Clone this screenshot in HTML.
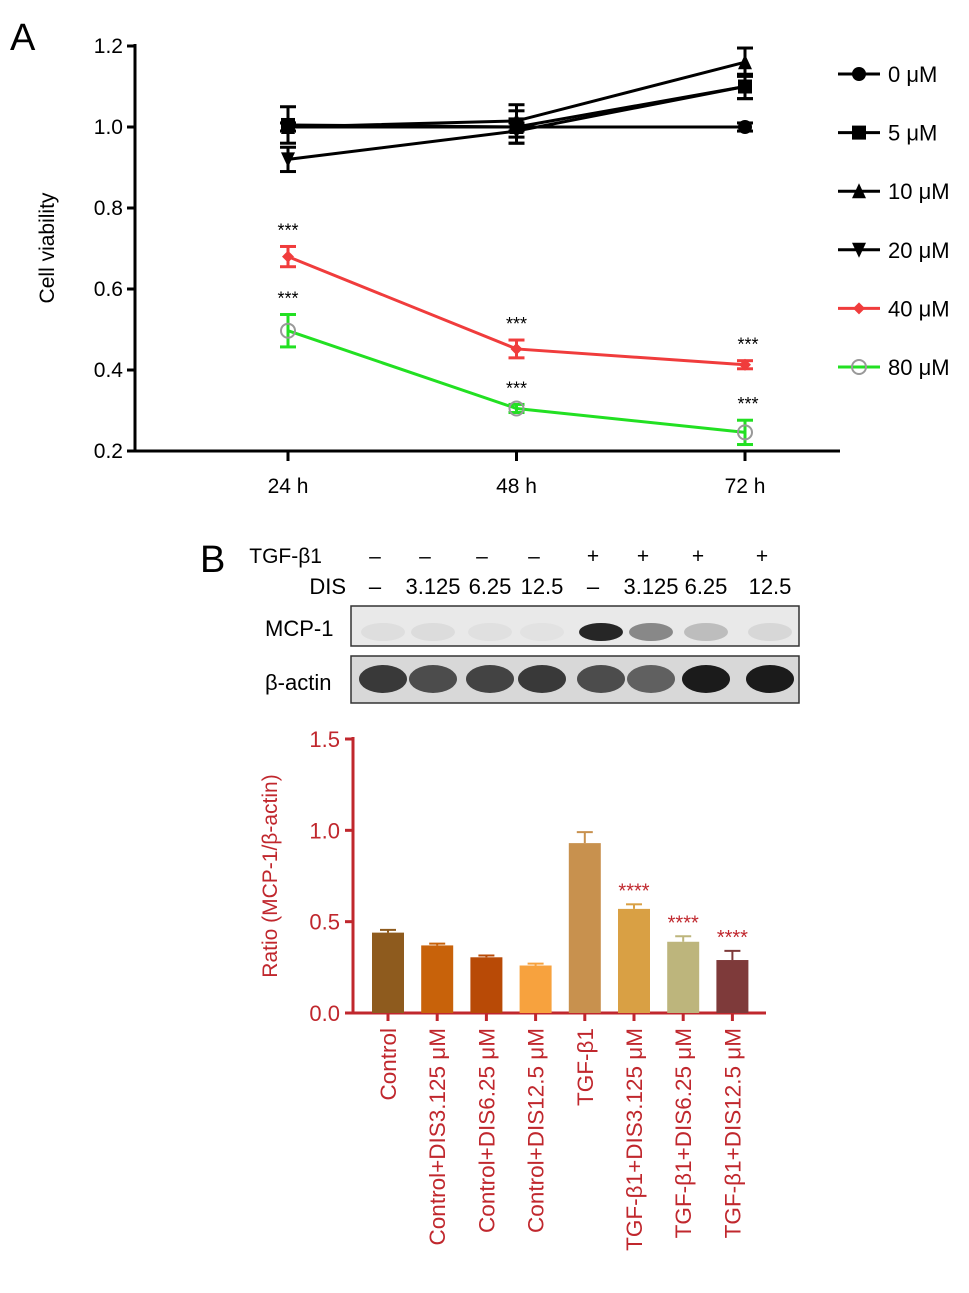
<!DOCTYPE html>
<html><head><meta charset="utf-8"><style>
body{margin:0;background:#fff}
svg{display:block;font-family:"Liberation Sans",Arial,sans-serif}
</style></head><body>
<svg id="fig" width="969" height="1293" viewBox="0 0 969 1293">
<text x="10" y="50" font-size="38">A</text>
<text x="200" y="572" font-size="38">B</text>
<g id="lineChart"></g>
<g id="blot"></g>
<g id="barChart"></g>
</svg>
<script>
const NS="http://www.w3.org/2000/svg";
function mk(p,tag,at,txt){const e=document.createElementNS(NS,tag);for(const k in at)e.setAttribute(k,at[k]);if(txt!==undefined)e.textContent=txt;p.appendChild(e);return e;}

// ===== Line chart data =====
const timeLabels=["24 h","48 h","72 h"];
const yTicksA=[0.2,0.4,0.6,0.8,1.0,1.2];
const seriesNames=["0 μM","5 μM","10 μM","20 μM","40 μM","80 μM"];
const v0=[1.0,1.0,1.0];
const v5=[1.005,1.0,1.10];
const v10=[1.0,1.015,1.16];
const v20=[0.92,0.99,1.10];
const v40=[0.68,0.452,0.413];
const v80=[0.497,0.305,0.246];
const e0=[0.01,0.01,0.01];
const e5=[0.045,0.04,0.03];
const e10=[0.01,0.04,0.035];
const e20=[0.03,0.03,0.03];
const e40=[0.025,0.022,0.01];
const e80=[0.04,0.01,0.03];
const sigA=[[4,0],[5,0],[4,1],[5,1],[4,2],[5,2]];

const LC=document.getElementById('lineChart');
const ax0=135, axR=840, yTop=46, yBot=451;
const xA=i=>288+i*228.5;
const yA=v=>yBot-(v-0.2)/(1.0)*(yBot-yTop);
mk(LC,'line',{x1:ax0,y1:yTop-2,x2:ax0,y2:yBot,stroke:'#000','stroke-width':3});
mk(LC,'line',{x1:ax0,y1:yBot,x2:axR,y2:yBot,stroke:'#000','stroke-width':3});
yTicksA.forEach(t=>{const y=yA(t);
 mk(LC,'line',{x1:ax0-8,y1:y,x2:ax0,y2:y,stroke:'#000','stroke-width':3});
 const tx=mk(LC,'text',{x:ax0-12,y:y+7,'font-size':21,'text-anchor':'end'},t.toFixed(1));
 });
timeLabels.forEach((l,i)=>{const x=xA(i);
 mk(LC,'line',{x1:x,y1:yBot,x2:x,y2:yBot+10,stroke:'#000','stroke-width':3});
 const tx=mk(LC,'text',{x:x,y:yBot+42,'font-size':21,'text-anchor':'middle'},l);
 });
const yl=mk(LC,'text',{x:0,y:0,'font-size':21,'text-anchor':'middle',transform:`translate(54,248) rotate(-90)`},'Cell viability');


const allV=[v0,v5,v10,v20,v40,v80], allE=[e0,e5,e10,e20,e40,e80];
const cols=['#000','#000','#000','#000','#f03c3c','#22e022'];
const ecols=['#000','#000','#000','#000','#f03c3c','#22e022'];
const mshape=['circle','square','tri','tridown','diamond','ocircle'];
function marker(g,s,x,y,sz){
 if(s==='circle')mk(g,'circle',{cx:x,cy:y,r:sz,fill:'#000'});
 else if(s==='square')mk(g,'rect',{x:x-sz,y:y-sz,width:2*sz,height:2*sz,fill:'#000'});
 else if(s==='tri')mk(g,'polygon',{points:`${x},${y-sz-1} ${x-sz},${y+sz} ${x+sz},${y+sz}`,fill:'#000'});
 else if(s==='tridown')mk(g,'polygon',{points:`${x},${y+sz+1} ${x-sz},${y-sz} ${x+sz},${y-sz}`,fill:'#000'});
 else if(s==='diamond')mk(g,'polygon',{points:`${x},${y-sz} ${x+sz},${y} ${x},${y+sz} ${x-sz},${y}`,fill:'#f03c3c'});
 else mk(g,'circle',{cx:x,cy:y,r:sz+1,fill:'none',stroke:'#999','stroke-width':2});
}
[3,2,1,0,4,5].forEach(k=>{
 const g=mk(LC,'g',{});
 
 
 const pts=allV[k].map((v,i)=>xA(i)+','+yA(v)).join(' ');
 mk(g,'polyline',{points:pts,fill:'none',stroke:cols[k],'stroke-width':3});
 allV[k].forEach((v,i)=>{const x=xA(i),yc=yA(v),y1=yA(v+allE[k][i]),y2=yA(v-allE[k][i]);
  mk(g,'line',{x1:x,y1:y1,x2:x,y2:y2,stroke:ecols[k],'stroke-width':3});
  mk(g,'line',{x1:x-8,y1:y1,x2:x+8,y2:y1,stroke:ecols[k],'stroke-width':3});
  mk(g,'line',{x1:x-8,y1:y2,x2:x+8,y2:y2,stroke:ecols[k],'stroke-width':3});
  marker(g,mshape[k],x,yc,k>=4?6:7);});
});
sigA.forEach(([k,i])=>{const t=mk(LC,'text',{x:xA(i)+(i===2?3:0),y:yA(allV[k][i]+allE[k][i])-10,'font-size':18,'text-anchor':'middle'},'***');
 });
seriesNames.forEach((n,k)=>{const y=74+k*58.6;
 const g=mk(LC,'g',{});
 
 mk(g,'line',{x1:838,y1:y,x2:880,y2:y,stroke:cols[k],'stroke-width':3});
 marker(g,mshape[k],859,y,k>=4?6:7);
 mk(g,'text',{x:888,y:y+8,'font-size':22},n);});

// ===== Western blot =====
const lanesX=[383,433,490,542,601,651,706,770];
const tgf=["–","–","–","–","+","+","+","+"];
const dis=["–","3.125","6.25","12.5","–","3.125","6.25","12.5"];
const mcpInt=[0.05,0.06,0.04,0.03,0.9,0.45,0.2,0.08];
const actInt=[0.8,0.7,0.75,0.8,0.7,0.6,0.95,0.95];
const B=document.getElementById('blot');
let t=mk(B,'text',{x:322,y:563,'font-size':21,'text-anchor':'end'},'TGF-β1');
t=mk(B,'text',{x:346,y:594,'font-size':22,'text-anchor':'end'},'DIS');
tgf.forEach((s,i)=>{mk(B,'text',{x:lanesX[i]-8,y:563,'font-size':21,'text-anchor':'middle'},s);});
dis.forEach((s,i)=>{mk(B,'text',{x:lanesX[i]-(s==='–'?8:0),y:594,'font-size':22,'text-anchor':'middle'},s);});
mk(B,'rect',{x:351,y:606,width:448,height:40,fill:'#e9e9e9',stroke:'#333','stroke-width':1.5});
mk(B,'rect',{x:351,y:656,width:448,height:47,fill:'#d8d8d8',stroke:'#333','stroke-width':1.5});
t=mk(B,'text',{x:265,y:636,'font-size':22},'MCP-1');
t=mk(B,'text',{x:265,y:690,'font-size':22},'β-actin');
lanesX.forEach((x,i)=>{
 const b=mk(B,'ellipse',{cx:x,cy:632,rx:22,ry:9,fill:'#111','fill-opacity':mcpInt[i]});
 
 const a=mk(B,'ellipse',{cx:x,cy:679,rx:24,ry:14,fill:'#111','fill-opacity':actInt[i]});
 });

// ===== Bar chart =====
const groups=["Control","Control+DIS3.125 μM","Control+DIS6.25 μM","Control+DIS12.5 μM","TGF-β1","TGF-β1+DIS3.125 μM","TGF-β1+DIS6.25 μM","TGF-β1+DIS12.5 μM"];
const ratios=[0.44,0.37,0.305,0.26,0.93,0.57,0.39,0.29];
const ratioErr=[0.015,0.01,0.01,0.01,0.06,0.025,0.03,0.05];
const sigB=["","","","","","****","****","****"];
const yTicksB=[0.0,0.5,1.0,1.5];
const barCols=['#8E5B1E','#C8620A','#B84A06','#F7A23E','#C8914E','#D9A044','#BDB57C','#7E3A3A'];
const RED='#c0272d';
const BC=document.getElementById('barChart');
const bx0=353,bxR=766,bTop=739,bBot=1013;
const yB=v=>bBot-v/1.5*(bBot-bTop);
const xB=i=>388+i*49.2;
mk(BC,'line',{x1:bx0,y1:bTop-2,x2:bx0,y2:bBot,stroke:RED,'stroke-width':3});
mk(BC,'line',{x1:bx0,y1:bBot,x2:bxR,y2:bBot,stroke:RED,'stroke-width':3});
yTicksB.forEach(v=>{const y=yB(v);
 mk(BC,'line',{x1:bx0-8,y1:y,x2:bx0,y2:y,stroke:RED,'stroke-width':3});
 const tx=mk(BC,'text',{x:bx0-13,y:y+8,'font-size':22,'text-anchor':'end',fill:RED},v.toFixed(1));
 });
t=mk(BC,'text',{x:0,y:0,'font-size':21,'text-anchor':'middle',fill:RED,transform:'translate(277,876) rotate(-90)'},'Ratio (MCP-1/β-actin)');

ratios.forEach((v,i)=>{const x=xB(i);
 const r=mk(BC,'rect',{x:x-16,y:yB(v),width:32,height:bBot-yB(v),fill:barCols[i]});
 
 const ye=yB(v+ratioErr[i]);
 mk(BC,'line',{x1:x,y1:ye,x2:x,y2:yB(v),stroke:barCols[i],'stroke-width':2});
 mk(BC,'line',{x1:x-8,y1:ye,x2:x+8,y2:ye,stroke:barCols[i],'stroke-width':2});
 mk(BC,'line',{x1:x,y1:bBot,x2:x,y2:bBot+8,stroke:RED,'stroke-width':3});
 if(sigB[i]){const s=mk(BC,'text',{x:x,y:ye-7,'font-size':20,'text-anchor':'middle',fill:RED},sigB[i]);
  }
 const l=mk(BC,'text',{x:0,y:0,'font-size':22.5,'text-anchor':'end',fill:RED,transform:`translate(${x+8},1028) rotate(-90)`},groups[i]);
 
});
</script>
</body></html>
